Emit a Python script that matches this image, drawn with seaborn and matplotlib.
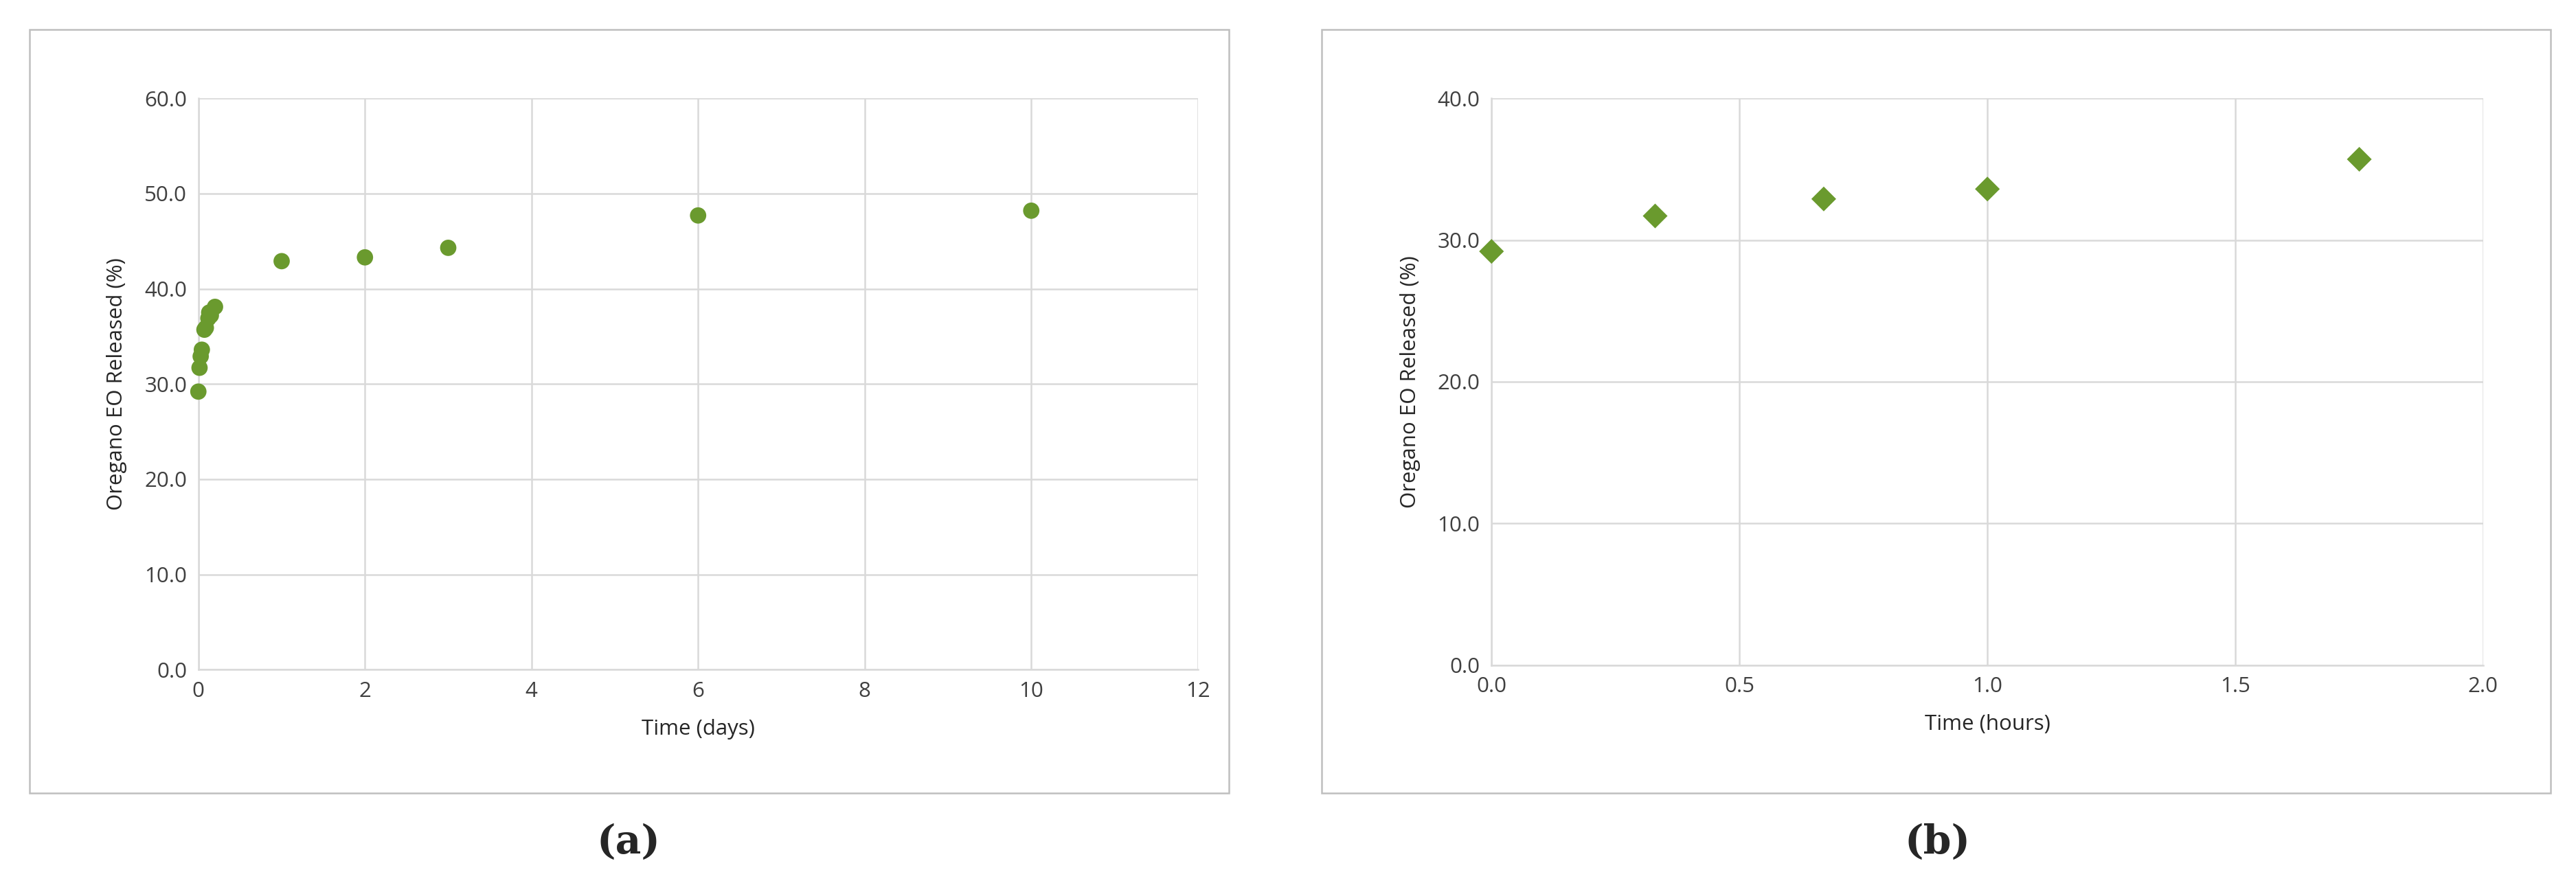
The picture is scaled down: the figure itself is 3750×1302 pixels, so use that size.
import matplotlib
matplotlib.use("Agg")
import matplotlib.pyplot as plt
import seaborn as sns
from matplotlib.patches import Rectangle

sns.set_theme(style="whitegrid")
plt.rcParams['font.family'] = ['Open Sans', 'DejaVu Sans']

days = [0.0, 0.014, 0.028, 0.042, 0.073, 0.09, 0.12, 0.13, 0.15, 0.2, 1, 2, 3, 6, 10]
release_days = [29.2, 31.7, 32.9, 33.6, 35.7, 35.9, 36.9, 37.5, 37.2, 38.1, 42.9, 43.3, 44.3, 47.7, 48.2]
hours = [0.0, 0.33, 0.67, 1.0, 1.75]
release_hours = [29.2, 31.7, 32.9, 33.6, 35.7]

green = "#6a9a2e"
grid_c = "#d9d9d9"
tick_c = "#595959"

fig = plt.figure(figsize=(25, 8.68), dpi=150)
for x0, w in [(0.0115, 0.4655), (0.513, 0.477)]:
    fig.patches.append(Rectangle((x0, 0.113), w, 0.854, transform=fig.transFigure,
                                 fill=False, edgecolor="#bfbfbf", linewidth=1.2))

ax1 = fig.add_axes([0.077, 0.251, 0.388, 0.639])
ax2 = fig.add_axes([0.579, 0.256, 0.385, 0.634])

sns.scatterplot(x=days, y=release_days, ax=ax1, color=green, s=130, edgecolor="none",
                clip_on=False, zorder=3)
sns.scatterplot(x=hours, y=release_hours, ax=ax2, color=green, s=150, marker="D", edgecolor="none",
                clip_on=False, zorder=3)

for ax, xmax, xstep, ymax, ystep, xl in [(ax1, 12, 2, 60, 10, "Time (days)"),
                                          (ax2, 2.0, 0.5, 40, 10, "Time (hours)")]:
    ax.set_xlim(0, xmax)
    ax.set_ylim(0, ymax)
    xt = [i * xstep for i in range(int(round(xmax / xstep)) + 1)]
    yt = list(range(0, ymax + 1, ystep))
    ax.set_xticks(xt)
    ax.set_yticks(yt)
    if ax is ax1:
        ax.set_xticklabels([f"{int(v)}" for v in xt])
    else:
        ax.set_xticklabels([f"{v:.1f}" for v in xt])
    ax.set_yticklabels([f"{v:.1f}" for v in yt])
    ax.grid(True, color=grid_c, linewidth=1.2)
    for s in ["top", "right"]:
        ax.spines[s].set_visible(False)
    ax.spines["left"].set_color(grid_c)
    ax.spines["bottom"].set_color(grid_c)
    ax.spines["left"].set_linewidth(1.2)
    ax.spines["bottom"].set_linewidth(1.2)
    ax.tick_params(colors="#404040", labelsize=15, length=0, pad=8)
    ax.set_xlabel(xl, fontsize=15, color="#262626", labelpad=12)
    ax.set_ylabel("Oregano EO Released (%)", fontsize=15, color="#262626", labelpad=12)

fig.text(0.244, 0.045, "(a)", fontsize=28, fontweight="bold", family="DejaVu Serif", ha="center")
fig.text(0.752, 0.045, "(b)", fontsize=28, fontweight="bold", family="DejaVu Serif", ha="center")

fig.savefig("out.png", dpi=150, facecolor="white")
